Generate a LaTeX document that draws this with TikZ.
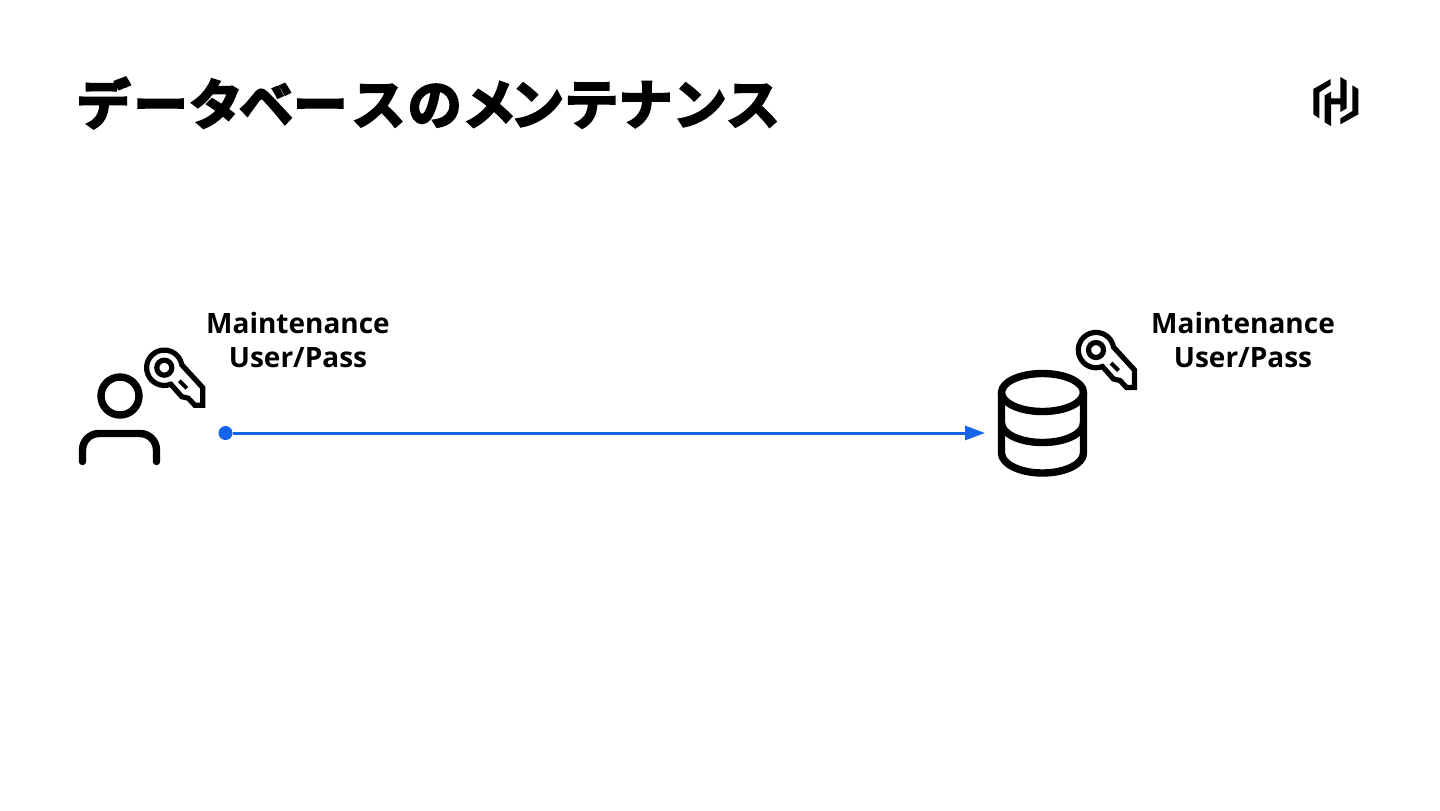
\documentclass[tikz,border=0pt]{standalone}
\usepackage{fontspec}
\setmainfont{Open Sans}
\newfontfamily\cjk[FakeBold=4]{Noto Sans CJK JP Bold}
\usetikzlibrary{arrows.meta}
\definecolor{hblue}{HTML}{1563E8}
\tikzset{
  x=0.5pt,y=-0.5pt,
  label/.style={font=\bfseries\fontsize{14}{17}\selectfont,align=center,text=black,inner sep=0},
  titletext/.style={font=\cjk\fontsize{27.1}{30}\selectfont,anchor=west,inner sep=0,text=black},
  icon/.style={draw=black,line width=3.7pt,line cap=round,line join=round},
  keyline/.style={draw=black,line width=2.6pt,line join=miter},
  flow/.style={draw=hblue,line width=1.5pt,-{Triangle[length=10pt,width=7pt]}},
  dot/.style={circle,fill=hblue,inner sep=0,minimum size=7pt},
  logo/.style={fill=black,draw=none}
}
\newcommand{\keyshape}{%
  \draw[keyline] (16.5,-4) -- (38.5,20) -- (38.5,37.5) -- (30.5,37.5) -- (24,30.5) -- (17.5,29) -- (6.5,16.5)
    arc[start angle=-68.5,end angle=-346.4,x radius=17.7,y radius=-17.7];
  \draw[keyline] (0,0) circle[radius=7.5];
  \draw[draw=black,line width=2pt] (15,13) -- (22.5,20.5);
}
\begin{document}
\begin{tikzpicture}
\useasboundingbox (0,0) rectangle (1440,810);
\fill[white] (0,0) rectangle (1440,810);
\node[titletext] (title) at (76,103) {デ\kern1.5pt ー\kern0.5pt タ\kern-2pt ベー\kern2pt ス\kern1pt の\kern0.3pt メ\kern-3.3pt ンテナンス};
% logo
\begin{scope}[shift={(1300,65)},x=0.1667pt,y=-0.1667pt]
\fill[logo] (40,72) -- (92,42) -- (92,60) -- (58,82) -- (58,160) -- (40,148) -- cycle;
\fill[logo] (74,91) -- (93,80) -- (93,100) -- (121,100) -- (121,36) -- (140,47) -- (140,130) -- (121,141) -- (121,118) -- (93,118) -- (93,183) -- (74,172) -- cycle;
\fill[logo] (175,72) -- (175,148) -- (121,178) -- (121,160) -- (157,138) -- (157,61) -- cycle;
\end{scope}
% user
\draw[icon] (120,396) circle[radius=19];
\draw[icon] (82.5,461.5) -- (82.5,450) arc[start angle=180,end angle=270,radius=16.5] -- (140,433.5) arc[start angle=270,end angle=360,radius=16.5] -- (156.5,461.5);
\begin{scope}[shift={(164.3,367.7)}]\keyshape\end{scope}
% database
\draw[icon] (1042.5,392.5) ellipse[x radius=41,y radius=19];
\draw[icon] (1001.5,392.5) -- (1001.5,453) arc[start angle=180,end angle=360,x radius=41,y radius=-20] -- (1083.5,392.5);
\draw[icon] (1001.5,423) arc[start angle=180,end angle=360,x radius=41,y radius=-19.5];
\begin{scope}[shift={(1096,350)}]\keyshape\end{scope}
% labels
\node[label] (lab1) at (298,340) {Maintenance\\User/Pass};
\node[label] (lab2) at (1243,340) {Maintenance\\User/Pass};
% connector
\node[dot] (src) at (225.5,433) {};
\coordinate (dst) at (985,433);
\draw[flow] (src) -- (dst);
\end{tikzpicture}
\end{document}
